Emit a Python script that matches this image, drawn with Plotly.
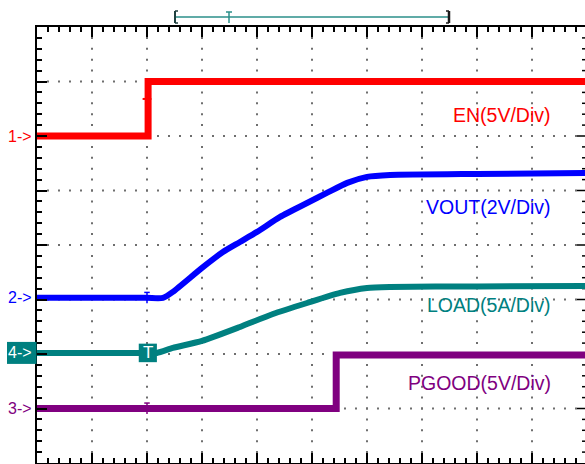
import plotly.graph_objects as go

# ---- Scope settings -------------------------------------------------------
H_DIVS = 10          # horizontal divisions of the graticule
V_DIVS = 8           # vertical divisions of the graticule
MINOR = 0.2          # minor tick spacing (div)

# Channel scale (units/div) and ground-marker position (div from centre)
EN_SCALE, EN_OFFSET = 5.0, 2.0
VOUT_SCALE, VOUT_OFFSET = 2.0, -0.97
LOAD_SCALE, LOAD_OFFSET = 5.0, -1.98
PGOOD_SCALE, PGOOD_OFFSET = 5.0, -3.0

# ---- Captured waveforms (time in div from the left edge) ------------------
en_t = [0.0, 2.02, 2.02, 10.0]
en_v = [0.0, 0.0, 5.0, 5.0]

vout_t = [0.0, 1.0, 2.0, 2.29, 2.47, 3.0, 3.38, 3.69, 4.0, 4.42, 4.91, 5.27, 5.64, 6.0, 6.42, 8.0, 10.0]
vout_v = [0.0, 0.0, 0.0, 0.0, 0.22, 1.10, 1.68, 2.05, 2.42, 2.97, 3.48, 3.85, 4.22, 4.44, 4.51, 4.55, 4.58]

load_t = [0.0, 1.0, 1.9, 2.18, 2.47, 3.0, 3.69, 4.29, 4.91, 5.51, 6.0, 6.42, 8.0, 10.0]
load_a = [0.0, 0.0, 0.0, 0.0, 0.46, 1.10, 2.38, 3.57, 4.58, 5.50, 5.96, 6.05, 6.10, 6.14]

pgood_t = [0.0, 5.44, 5.44, 10.0]
pgood_v = [0.0, 0.0, 4.9, 4.9]

TRIG_POS = 2.0       # trigger position (div)

EN_COLOR = "#ff0000"
VOUT_COLOR = "#0000ff"
LOAD_COLOR = "#008080"
PGOOD_COLOR = "#800080"

W, H = 585, 464
ML, MT, MB = 37, 27, 1
PLOT_W = W - ML
PLOT_H = H - MT - MB
PX_PER_DIV = 55.0
X_MAX = PLOT_W / PX_PER_DIV


def to_div(values, scale, offset):
    return [offset + v / scale for v in values]


fig = go.Figure()

# ---- Dotted graticule ----------------------------------------------------
gx, gy = [], []
n_minor_v = int(round(V_DIVS / MINOR))
n_minor_h = int(round(H_DIVS / MINOR))
for i in range(1, H_DIVS):
    for k in range(1, n_minor_v):
        gx.append(i)
        gy.append(-V_DIVS / 2 + k * MINOR)
for j in range(1, V_DIVS):
    yv = -V_DIVS / 2 + j
    for k in range(1, n_minor_h):
        gx.append(k * MINOR)
        gy.append(yv)
fig.add_trace(go.Scatter(
    x=gx, y=gy, mode="markers", hoverinfo="skip", showlegend=False,
    marker=dict(symbol="square", size=2, color="#6e6e6e", line=dict(width=0)),
))

# Right-hand border ticks (border itself lies just off screen)
rx, ry = [], []
for k in range(1, n_minor_v):
    yv = -V_DIVS / 2 + k * MINOR
    ln = 10 if abs(yv - round(yv)) < 1e-6 else 5
    rx += [H_DIVS - ln / PX_PER_DIV, H_DIVS, None]
    ry += [yv, yv, None]
fig.add_trace(go.Scatter(x=rx, y=ry, mode="lines", hoverinfo="skip", showlegend=False,
                         line=dict(color="#000000", width=1.5)))

# ---- Waveforms -------------------------------------------------------------
def add_wave(t, y, color, width, smooth=False):
    line = dict(color=color, width=width)
    if smooth:
        line.update(shape="spline", smoothing=0.6)
    fig.add_trace(go.Scatter(x=t, y=y, mode="lines", hoverinfo="skip", showlegend=False,
                             line=line))


add_wave(pgood_t, to_div(pgood_v, PGOOD_SCALE, PGOOD_OFFSET), PGOOD_COLOR, 7)
add_wave(load_t, to_div(load_a, LOAD_SCALE, LOAD_OFFSET), LOAD_COLOR, 6, smooth=True)
add_wave(vout_t, to_div(vout_v, VOUT_SCALE, VOUT_OFFSET), VOUT_COLOR, 6, smooth=True)
add_wave(en_t, to_div(en_v, EN_SCALE, EN_OFFSET), EN_COLOR, 7)

shapes = []
annotations = []


def px_x(p):
    return (p - ML) / PLOT_W


def px_y(p):
    return (H - MB - p) / PLOT_H


# EN trigger-level marker
en_trig = EN_OFFSET + 3.4 / EN_SCALE
shapes.append(dict(type="line", xref="x", yref="y", x0=TRIG_POS - 0.08, x1=TRIG_POS + 0.08,
                   y0=en_trig, y1=en_trig, line=dict(color=EN_COLOR, width=2)))

# small trigger ticks on the VOUT and PGOOD traces
for col, off in ((VOUT_COLOR, VOUT_OFFSET), (PGOOD_COLOR, PGOOD_OFFSET)):
    shapes.append(dict(type="line", xref="x", yref="y", x0=TRIG_POS, x1=TRIG_POS,
                       y0=off - 0.1, y1=off + 0.1, line=dict(color=col, width=1.5)))
    shapes.append(dict(type="line", xref="x", yref="y", x0=TRIG_POS - 0.05, x1=TRIG_POS + 0.05,
                       y0=off + 0.1, y1=off + 0.1, line=dict(color=col, width=1.5)))

# Trigger "T" flag on the load trace
shapes.append(dict(type="rect", xref="x", yref="y", x0=TRIG_POS - 0.15, x1=TRIG_POS + 0.18,
                   y0=LOAD_OFFSET - 0.17, y1=LOAD_OFFSET + 0.17,
                   fillcolor=LOAD_COLOR, line=dict(width=0)))
annotations.append(dict(x=TRIG_POS + 0.015, y=LOAD_OFFSET, xref="x", yref="y", text="T",
                        showarrow=False, font=dict(family="Liberation Sans", size=17, color="#ffffff")))

# ---- Channel labels --------------------------------------------------------
labels = [
    ("EN(5V/Div)", EN_COLOR, 2.385),
    ("VOUT(2V/Div)", VOUT_COLOR, 0.70),
    ("LOAD(5A/Div)", LOAD_COLOR, -1.10),
    ("PGOOD(5V/Div)", PGOOD_COLOR, -2.53),
]
for text, color, yv in labels:
    annotations.append(dict(x=9.38, y=yv, xref="x", yref="y", text=text, showarrow=False,
                            xanchor="right", yanchor="middle",
                            font=dict(family="Liberation Sans", size=19.5, color=color)))

# ---- Ground markers on the left --------------------------------------------
markers = [("1->", EN_COLOR, EN_OFFSET), ("2->", VOUT_COLOR, VOUT_OFFSET),
           ("3->", PGOOD_COLOR, PGOOD_OFFSET)]
for text, color, yv in markers:
    annotations.append(dict(x=px_x(34), y=(yv + V_DIVS / 2) / V_DIVS, xref="paper", yref="paper",
                            text=text, showarrow=False, xanchor="right", yanchor="middle",
                            font=dict(family="Liberation Sans", size=16, color=color)))

y4 = (LOAD_OFFSET + V_DIVS / 2) / V_DIVS
shapes.append(dict(type="rect", xref="paper", yref="paper", x0=px_x(7), x1=px_x(36.5),
                   y0=y4 - 11 / PLOT_H, y1=y4 + 11 / PLOT_H,
                   fillcolor=LOAD_COLOR, line=dict(width=0)))
annotations.append(dict(x=px_x(34), y=y4, xref="paper", yref="paper", text="4->",
                        showarrow=False, xanchor="right", yanchor="middle",
                        font=dict(family="Liberation Sans", size=16, color="#ffffff")))

# ---- Record / trigger position bar above the graticule ---------------------
bar_y = px_y(17)
bx0, bx1, btx = px_x(175), px_x(449), px_x(229)
top, bot = px_y(11), px_y(23)
bar_col = "#2b8f8a"
shapes += [
    dict(type="line", xref="paper", yref="paper", x0=bx0, x1=bx1, y0=bar_y, y1=bar_y,
         line=dict(color=bar_col, width=1.5)),
    # left bracket
    dict(type="line", xref="paper", yref="paper", x0=bx0, x1=bx0, y0=bot, y1=top,
         line=dict(color="#1f3f3f", width=2)),
    dict(type="line", xref="paper", yref="paper", x0=bx0, x1=px_x(178), y0=top, y1=top,
         line=dict(color="#1f3f3f", width=1.5)),
    dict(type="line", xref="paper", yref="paper", x0=bx0, x1=px_x(178), y0=bot, y1=bot,
         line=dict(color="#1f3f3f", width=1.5)),
    # right bracket
    dict(type="line", xref="paper", yref="paper", x0=bx1, x1=bx1, y0=bot, y1=top,
         line=dict(color="#1a1a1a", width=2.5)),
    dict(type="line", xref="paper", yref="paper", x0=px_x(446), x1=bx1, y0=top, y1=top,
         line=dict(color="#1a1a1a", width=1.5)),
    dict(type="line", xref="paper", yref="paper", x0=px_x(446), x1=bx1, y0=bot, y1=bot,
         line=dict(color="#1a1a1a", width=1.5)),
    # trigger "T"
    dict(type="line", xref="paper", yref="paper", x0=btx, x1=btx, y0=bot, y1=px_y(12),
         line=dict(color=bar_col, width=1.5)),
    dict(type="line", xref="paper", yref="paper", x0=px_x(226), x1=px_x(232), y0=px_y(12), y1=px_y(12),
         line=dict(color=bar_col, width=1.5)),
]

axis_common = dict(showgrid=False, zeroline=False, showticklabels=False,
                   showline=True, linecolor="#000000", linewidth=2,
                   ticks="inside", ticklen=10, tickwidth=1.5, tickcolor="#000000", dtick=1)

fig.update_layout(
    width=W, height=H,
    margin=dict(l=ML, r=0, t=MT, b=MB, pad=0),
    paper_bgcolor="#ffffff", plot_bgcolor="#ffffff",
    showlegend=False,
    xaxis=dict(range=[0, X_MAX], tick0=0, mirror="ticks",
               minor=dict(ticks="inside", ticklen=5, tickwidth=1.5, tickcolor="#000000", dtick=MINOR),
               **axis_common),
    yaxis=dict(range=[-V_DIVS / 2, V_DIVS / 2], tick0=0, mirror=False,
               minor=dict(ticks="inside", ticklen=5, tickwidth=1.5, tickcolor="#000000", dtick=MINOR),
               **axis_common),
    shapes=shapes,
    annotations=annotations,
)

fig.write_html("out.html")
